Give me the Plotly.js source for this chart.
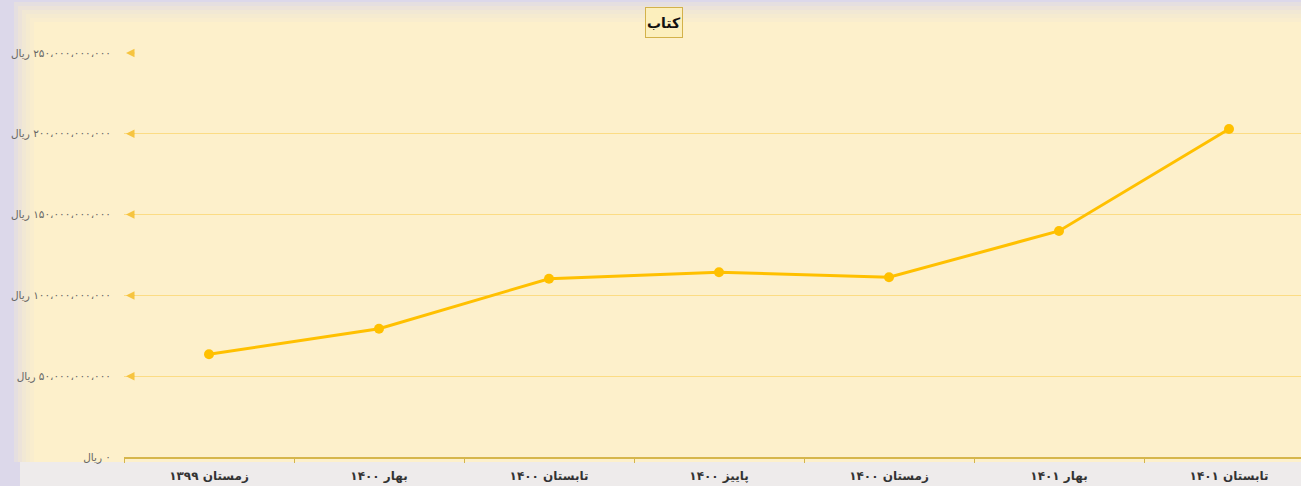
<!DOCTYPE html>
<html>
<head>
<meta charset="utf-8">
<script src="https://cdn.plot.ly/plotly-3.0.1.min.js"></script>
<style>html,body{margin:0;padding:0;background:#dcd8ea;}#chart{width:1301px;height:486px;}</style>
</head>
<body>
<div id="chart"></div>
<script>
const categories = ['زمستان ۱۳۹۹','بهار ۱۴۰۰','تابستان ۱۴۰۰','پاییز ۱۴۰۰','زمستان ۱۴۰۰','بهار ۱۴۰۱','تابستان ۱۴۰۱'];
const values = [63.6e9, 79.4e9, 110.3e9, 114.3e9, 111.2e9, 139.9e9, 203.0e9];
const tickValues = [0, 50e9, 100e9, 150e9, 200e9, 250e9];
const tickLabels = ['ریال\u200E ۰','ریال\u200E ۵۰،۰۰۰،۰۰۰،۰۰۰','ریال\u200E ۱۰۰،۰۰۰،۰۰۰،۰۰۰','ریال\u200E ۱۵۰،۰۰۰،۰۰۰،۰۰۰','ریال\u200E ۲۰۰،۰۰۰،۰۰۰،۰۰۰','ریال\u200E ۲۵۰،۰۰۰،۰۰۰،۰۰۰'];
const chartTitle = 'کتاب';

const W = 1301, H = 486, L = 124, T = 53, B = 29;
const PW = W - L, PH = H - T - B;
const px = x => (x - L) / PW;
const py = y => (H - B - y) / PH;

const shapes = [];
const insets = [[14,2,0.3],[18,6,0.3],[22,10,0.35],[26,14,0.4],[30,18,0.5],[34,22,1]];
insets.forEach(([x0, y0, op]) => {
  shapes.push({type:'rect', xref:'paper', yref:'paper', layer:'below',
    x0:px(x0), x1:px(W+10), y0:py(462), y1:py(y0), line:{width:0}, fillcolor:'#fdf0cb', opacity:op});
});
shapes.push({type:'rect', xref:'paper', yref:'paper', layer:'below',
  x0:px(20), x1:px(W+10), y0:py(H+5), y1:py(462), line:{width:0}, fillcolor:'#efedeb', opacity:0.9});

const annotations = [{
  xref:'paper', yref:'paper', x:px(664), y:py(23), xanchor:'center', yanchor:'middle',
  text:'<b>' + chartTitle + '</b>', showarrow:false, width:34, height:27,
  font:{family:'DejaVu Sans, Noto Sans', size:14, color:'#111'},
  bgcolor:'#fcefbd', bordercolor:'#d3b24a', borderwidth:1, borderpad:1
}];
tickValues.slice(1).forEach(v => {
  annotations.push({xref:'paper', yref:'y', x:px(126), y:v, text:'', showarrow:true,
    ax:10, ay:0, arrowhead:2, arrowsize:1.7, arrowwidth:1, arrowcolor:'#f6c440', standoff:0});
});

const trace = {
  x: categories, y: values, type:'scatter', mode:'lines+markers',
  line:{color:'#ffc000', width:3}, marker:{color:'#ffc000', size:10},
  cliponaxis:false, hoverinfo:'x+y'
};

const layout = {
  width:W, height:H,
  margin:{l:L, r:0, t:T, b:B, pad:0},
  paper_bgcolor:'#dcd8ea', plot_bgcolor:'rgba(0,0,0,0)',
  showlegend:false,
  font:{family:'DejaVu Sans, Noto Sans', color:'#444'},
  xaxis:{type:'category', categoryorder:'array', categoryarray:categories,
    range:[-0.5, -0.5 + (W - L)/170], tickson:'boundaries', ticks:'outside', ticklen:4,
    tickcolor:'#d6b64c', showline:true, linecolor:'#d6b64c', linewidth:1.5,
    showgrid:false, zeroline:false, tickfont:{size:12, color:'#333', family:'DejaVu Sans', weight:'bold'},
    ticklabelstandoff:7, fixedrange:true},
  yaxis:{range:[0, 250e9], tickvals:tickValues, ticktext:tickLabels, ticks:'',
    showgrid:true, gridcolor:'#fcdc84', gridwidth:1, zeroline:false, showline:false,
    tickfont:{size:10.5, color:'#666', family:'DejaVu Sans'}, ticklabelstandoff:12, fixedrange:true},
  shapes:shapes, annotations:annotations
};

Plotly.newPlot('chart', [trace], layout, {displayModeBar:false, staticPlot:true});
</script>
</body>
</html>
